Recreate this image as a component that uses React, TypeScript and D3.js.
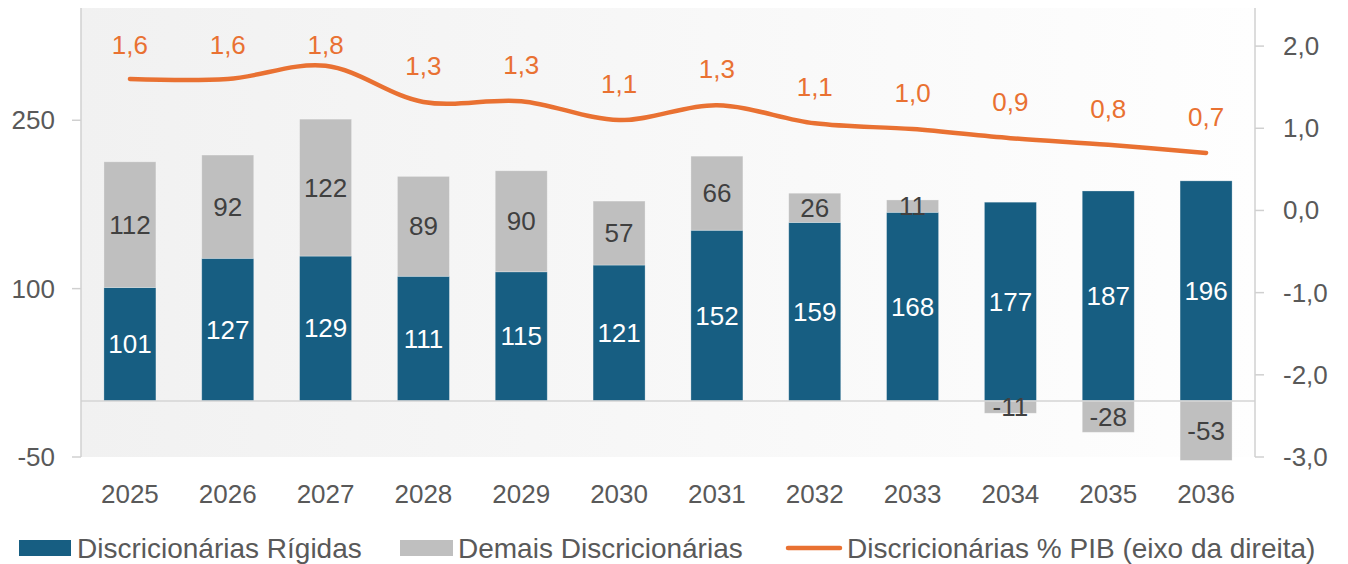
import React from "react";
import * as d3 from "d3";

const years = ["2025","2026","2027","2028","2029","2030","2031","2032","2033","2034","2035","2036"];
const rigidas = [101,127,129,111,115,121,152,159,168,177,187,196];
const demais = [112,92,122,89,90,57,66,26,11,-11,-28,-53];
const pibPct = [1.6,1.6,1.76,1.32,1.33,1.1,1.28,1.06,0.99,0.88,0.8,0.7];
const leftTicks = [-50,100,250];
const rightTicks = [-3,-2,-1,0,1,2];
const seriesNames = ["Discricionárias Rígidas","Demais Discricionárias","Discricionárias % PIB (eixo da direita)"];

const W = 1348, H = 564;
const FONT = "'Liberation Sans', Arial, sans-serif";
const FS = 26;
const LFS = 28;
const BLUE = "#175E82", GRAY = "#BFBFBF", ORANGE = "#E97132", TXT = "#595959";

export default function App() {
  const x0 = 81, x1 = 1255, yTop = 8, yBot = 457;
  const x = d3.scaleBand<string>().domain(years).range([x0, x1]).padding(0);
  const bw = 52;
  const cx = (y: string) => (x(y) as number) + x.bandwidth() / 2;
  const yL = d3.scaleLinear().domain([-50, 350]).range([yBot, yTop]);
  const yR = d3.scaleLinear().domain([-3, 2.5]).range([yBot, 5]);
  const fmt = (v: number) => v.toFixed(1).replace(".", ",");

  const line = d3.line<number>()
    .x((_, i) => cx(years[i]))
    .y((d) => yR(d))
    .curve(d3.curveCatmullRom.alpha(0.5));

  return (
    <svg width={W} height={H} style={{ position: "absolute", left: 0, top: 0, fontFamily: FONT }}>
      <defs>
        <linearGradient id="bg" x1="0" x2="1" y1="0" y2="0">
          <stop offset="0" stopColor="#f1f1f1" />
          <stop offset="1" stopColor="#fefefe" />
        </linearGradient>
      </defs>
      <rect x={0} y={0} width={W} height={H} fill="#fff" />
      <rect x={x0} y={yTop} width={x1 - x0} height={yBot - yTop} fill="url(#bg)" />
      {years.map((yr, i) => {
        const r = rigidas[i], d = demais[i];
        const bx = cx(yr) - bw / 2;
        const rTop = yL(r), z = yL(0);
        let gy0: number, gy1: number;
        if (d >= 0) { gy0 = yL(r + d); gy1 = yL(r); } else { gy0 = z; gy1 = yL(d); }
        return (
          <g key={yr}>
            <rect x={bx} y={rTop} width={bw} height={z - rTop} fill={BLUE} stroke="#ffffff" strokeOpacity={0.35} strokeWidth={0.8} />
            <rect x={bx} y={gy0} width={bw} height={gy1 - gy0} fill={GRAY} stroke="#ffffff" strokeOpacity={0.35} strokeWidth={0.8} />
          </g>
        );
      })}
      <line x1={x0} x2={x1} y1={yL(0)} y2={yL(0)} stroke="#d4d4d4" strokeWidth={1.5} />
      <line x1={x0} x2={x0} y1={yTop} y2={yBot} stroke="#d0d0d0" strokeWidth={1.5} />
      {leftTicks.map((t) => (
        <g key={t}>
          <line x1={x0 - 9} x2={x0} y1={yL(t)} y2={yL(t)} stroke="#d0d0d0" strokeWidth={1.5} />
          <text x={55} y={yL(t)} textAnchor="end" dominantBaseline="central" fontSize={FS} fill={TXT}>{t}</text>
        </g>
      ))}
      <line x1={x1} x2={x1} y1={yTop} y2={yBot} stroke="#d0d0d0" strokeWidth={1.5} />
      {rightTicks.map((t) => (
        <g key={t}>
          <line x1={x1} x2={x1 + 9} y1={yR(t)} y2={yR(t)} stroke="#d0d0d0" strokeWidth={1.5} />
          <text x={1283} y={yR(t)} textAnchor="start" dominantBaseline="central" fontSize={FS} fill={TXT}>{fmt(t)}</text>
        </g>
      ))}
      {years.map((yr) => (
        <text key={yr} x={cx(yr)} y={494} textAnchor="middle" dominantBaseline="central" fontSize={FS} fill={TXT}>{yr}</text>
      ))}
      {years.map((yr, i) => {
        const r = rigidas[i], d = demais[i];
        const ry = (yL(0) + yL(r)) / 2;
        const gy = d >= 0 ? (yL(r) + yL(r + d)) / 2 : (yL(0) + yL(d)) / 2;
        return (
          <g key={yr}>
            <text x={cx(yr)} y={ry} textAnchor="middle" dominantBaseline="central" fontSize={FS} fill="#ffffff">{r}</text>
            <text x={cx(yr)} y={gy} textAnchor="middle" dominantBaseline="central" fontSize={FS} fill="#404040">{d}</text>
          </g>
        );
      })}
      <path d={line(pibPct) || ""} fill="none" stroke={ORANGE} strokeWidth={4.5} strokeLinecap="round" strokeLinejoin="round" />
      {pibPct.map((v, i) => (
        <text key={i} x={cx(years[i])} y={Math.max(yR(v) - 36, 45)} textAnchor="middle" dominantBaseline="central" fontSize={FS} fill={ORANGE}>{fmt(v)}</text>
      ))}
      <rect x={19} y={540} width={52} height={16} fill={BLUE} />
      <text x={77} y={548} dominantBaseline="central" fontSize={LFS} fill={TXT}>{seriesNames[0]}</text>
      <rect x={400} y={540} width={53} height={16} fill={GRAY} />
      <text x={458} y={548} dominantBaseline="central" fontSize={LFS} fill={TXT}>{seriesNames[1]}</text>
      <line x1={788} x2={840} y1={548} y2={548} stroke={ORANGE} strokeWidth={4.5} strokeLinecap="round" />
      <text x={847} y={548} dominantBaseline="central" fontSize={LFS} fill={TXT}>{seriesNames[2]}</text>
    </svg>
  );
}
